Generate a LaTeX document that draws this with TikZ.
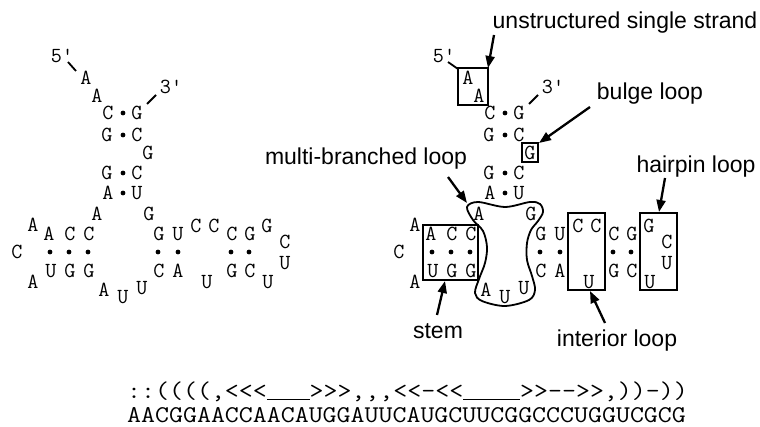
\documentclass[tikz,border=0pt]{standalone}
\usepackage{fontspec}
\setmainfont{Liberation Sans}
\usetikzlibrary{arrows.meta}

% an unpaired run in the bracket notation, drawn as one continuous rule
\newcommand\gaprun[1]{\rule[-0.1em]{#1}{0.06em}}

% one copy of the folded RNA; #1 is a prefix for the node names
\newcommand\drawrna[1]{%
  % 5' tail
  \node[nt] (#1a1) at (86,78) {A};
  \node[nt] (#1a2) at (97,96) {A};
  % closing helix with bulge
  \node[nt] (#1c3)  at (108,113) {C};
  \node[nt] (#1g40) at (137,113) {G};
  \node[nt] (#1g4)  at (107,135) {G};
  \node[nt] (#1c39) at (137,135) {C};
  \node[nt] (#1g38) at (148,153) {G};
  \node[nt] (#1g5)  at (107,173) {G};
  \node[nt] (#1c37) at (137,173) {C};
  \node[nt] (#1a6)  at (108,193) {A};
  \node[nt] (#1u36) at (137,193) {U};
  \fill (123,113) circle[radius=2.4pt];
  \fill (123,135) circle[radius=2.4pt];
  \fill (123,173) circle[radius=2.4pt];
  \fill (123,193) circle[radius=2.4pt];
  % multi-branched loop
  \node[nt] (#1a7)  at (97,214) {A};
  \node[nt] (#1g35) at (149,214) {G};
  \node[nt] (#1a17) at (104,290) {A};
  \node[nt] (#1u18) at (123,297) {U};
  \node[nt] (#1u19) at (142,288) {U};
  % left hairpin
  \node[nt] (#1c8)  at (89,234) {C};
  \node[nt] (#1c9)  at (70,234) {C};
  \node[nt] (#1a10) at (49,234) {A};
  \node[nt] (#1a11) at (33,225) {A};
  \node[nt] (#1c12) at (17,252) {C};
  \node[nt] (#1a13) at (33,282) {A};
  \node[nt] (#1u14) at (51,271) {U};
  \node[nt] (#1g15) at (70,271) {G};
  \node[nt] (#1g16) at (89,271) {G};
  \fill (50,252) circle[radius=2.4pt];
  \fill (69,252) circle[radius=2.4pt];
  \fill (88,252) circle[radius=2.4pt];
  % right arm: helix, interior loop, helix, hairpin
  \node[nt] (#1c20) at (159,271) {C};
  \node[nt] (#1a21) at (178,271) {A};
  \node[nt] (#1u22) at (207,282) {U};
  \node[nt] (#1g23) at (232,271) {G};
  \node[nt] (#1c24) at (250,271) {C};
  \node[nt] (#1u25) at (268,282) {U};
  \node[nt] (#1u26) at (285,263) {U};
  \node[nt] (#1c27) at (285,242) {C};
  \node[nt] (#1g28) at (267,226) {G};
  \node[nt] (#1g29) at (250,234) {G};
  \node[nt] (#1c30) at (232,234) {C};
  \node[nt] (#1c31) at (214,226) {C};
  \node[nt] (#1c32) at (196,226) {C};
  \node[nt] (#1u33) at (178,234) {U};
  \node[nt] (#1g34) at (159,234) {G};
  \fill (158,252) circle[radius=2.4pt];
  \fill (178,252) circle[radius=2.4pt];
  \fill (231,252) circle[radius=2.4pt];
  \fill (249,252) circle[radius=2.4pt];
  % ends
  \node[nt] (#1five)  at (62,56) {5'};
  \node[nt] (#1three) at (171,87) {3'};
  \coordinate (#1t3a) at (147,104);
  \coordinate (#1t3b) at (156,95);
  \draw[endline] (#1t3a) -- (#1t3b);
}

\begin{document}
\begin{tikzpicture}[x=1pt,y=-1pt,
  nt/.style={inner sep=0pt, font=\ttfamily\fontsize{21.5}{21.5}\selectfont},
  lbl/.style={inner sep=0pt, anchor=base, font=\fontsize{23}{23}\selectfont},
  seqtext/.style={inner sep=0pt, anchor=base west,
    font=\ttfamily\fontsize{24}{24}\selectfont},
  hl/.style={draw, line width=2pt},
  pointer/.style={line width=2.3pt, -{Triangle[length=12pt,width=9pt]}},
  endline/.style={line width=1.8pt},
]
\useasboundingbox (0,0) rectangle (760,427);

% plain structure
\drawrna{L}
\coordinate (Lt5a) at (68,62);
\coordinate (Lt5b) at (76,71);
\draw[endline] (Lt5a) -- (Lt5b);

% annotated structure
\begin{scope}[xshift=382pt]
\drawrna{R}
\end{scope}
\coordinate (Rt5a) at (448,62);
\draw[hl] (458,68) rectangle (488,105);
\coordinate (Rss) at (488,68);
\draw[endline] (Rt5a) -- (458,69);
\draw[hl] (522,143) rectangle (538,162);
\coordinate (Rbulge) at (539,143);
\draw[hl] (423,225) rectangle (478,280);
\coordinate (Rstem) at (445,281);
\draw[hl] (568,213) rectangle (605,290);
\coordinate (Rint) at (590,291);
\draw[hl] (640,213) rectangle (677,290);
\coordinate (Rhp) at (659,212);
\draw[hl, line width=1.8pt] plot[smooth cycle, tension=0.55] coordinates {
  (467,207) (473,220) (483,231) (487,247) (485,263) (479,279)
  (475,293) (482,301) (505,306) (529,300) (535,290) (532,276)
  (527,260) (527,243) (531,230) (538,221) (543,212) (540,204)
  (530,202) (505,207) (478,202)};
\coordinate (Rmulti) at (467,203);

% labels
\node[lbl] (lss)  at (625,29)  {unstructured single strand};
\node[lbl] (lbl1) at (650,100) {bulge loop};
\node[lbl] (lhp)  at (696,173) {hairpin loop};
\node[lbl] (lmb)  at (366,165) {multi-branched loop};
\node[lbl] (lst)  at (438,338) {stem};
\node[lbl] (lint) at (617,347) {interior loop};

\coordinate (ass) at (494,35);
\coordinate (abl) at (590,107);
\coordinate (ahp) at (665,178);
\coordinate (amb) at (448,177);
\coordinate (ast) at (437,315);
\coordinate (aint) at (605,323);
\draw[pointer] (ass) -- (Rss);
\draw[pointer] (abl) -- (Rbulge);
\draw[pointer] (ahp) -- (Rhp);
\draw[pointer] (amb) -- (Rmulti);
\draw[pointer] (ast) -- (Rstem);
\draw[pointer] (aint) -- (Rint);

% bracket notation and sequence
\node[seqtext] (notation) at (127,398)
  {\scalebox{1.13}[1]{::((((,<<<\gaprun{1.575em}>>>,,,<<-<<\gaprun{2.1em}>>-->>,))-))}};
\node[seqtext] (sequence) at (127,422)
  {\scalebox{1.13}[1]{AACGGAACCAACAUGGAUUCAUGCUUCGGCCCUGGUCGCG}};
\end{tikzpicture}
\end{document}
